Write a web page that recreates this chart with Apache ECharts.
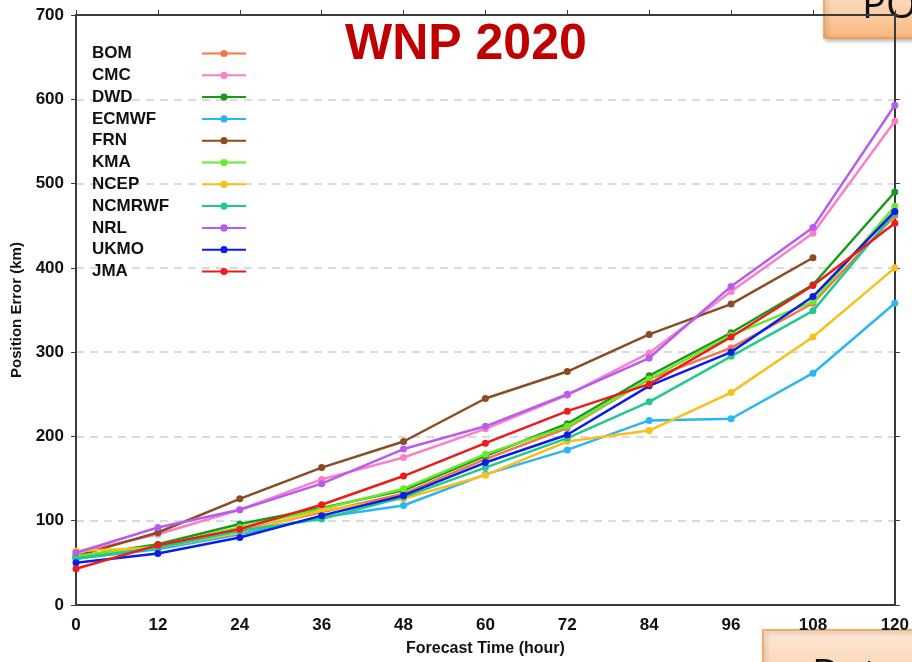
<!DOCTYPE html>
<html>
<head>
<meta charset="utf-8">
<script src="https://cdn.jsdelivr.net/npm/echarts@6/dist/echarts.min.js"></script>
<style>
html,body{margin:0;padding:0;background:#fff;}
#chart{width:912px;height:662px;}
</style>
</head>
<body>
<div id="chart"></div>
<script>
const hours = [0, 12, 24, 36, 48, 60, 72, 84, 96, 108, 120];
const centers = ['BOM','CMC','DWD','ECMWF','FRN','KMA','NCEP','NCMRWF','NRL','UKMO','JMA'];
const BOM    = [58, 68, 88, 110, 132, 173, 210, 268, 305, 358, 462];
const CMC    = [62, 84, 113, 149, 175, 209, 249, 299, 372, 441, 574];
const DWD    = [57, 72, 96, 115, 136, 177, 215, 272, 323, 380, 490];
const ECMWF  = [55, 66, 84, 104, 118, 155, 184, 219, 221, 275, 358];
const FRN    = [58, 86, 126, 163, 194, 245, 277, 321, 357, 412, null];
const KMA    = [58, 70, 92, 114, 138, 179, 212, 268, 320, 360, 473];
const NCEP   = [64, 68, 86, 112, 126, 154, 194, 207, 252, 318, 400];
const NCMRWF = [55, 68, 88, 102, 128, 163, 198, 241, 295, 349, 465];
const NRL    = [62, 92, 113, 144, 185, 212, 250, 293, 378, 448, 593];
const UKMO   = [50, 61, 80, 106, 130, 169, 202, 260, 300, 366, 467];
const JMA    = [43, 71, 90, 119, 153, 192, 230, 262, 318, 379, 453];
const seriesValues = [BOM, CMC, DWD, ECMWF, FRN, KMA, NCEP, NCMRWF, NRL, UKMO, JMA];
const colors = ['#f5754a','#fb7fc8','#179a17','#2ab6f3','#8c4b20','#6ae82e','#fbbf19','#22c98e','#b85cf0','#0b1de8','#ef1a1a'];
const titleText = 'WNP 2020';
const xName = 'Forecast Time (hour)';
const yName = 'Position Error (km)';

const font = '"Liberation Sans", Arial, sans-serif';
const chart = echarts.init(document.getElementById('chart'), null, {renderer: 'canvas'});

const series = centers.map((name, i) => ({
  name: name,
  type: 'line',
  xAxisIndex: 0,
  yAxisIndex: 0,
  data: hours.map((h, j) => [h, seriesValues[i][j]]),
  symbol: 'circle',
  symbolSize: 7,
  showSymbol: true,
  lineStyle: {width: 2.5, color: colors[i]},
  itemStyle: {color: colors[i]},
  connectNulls: false,
  animation: false,
  z: 2 + i
}));

const axisLineStyle = {show: true, onZero: false, lineStyle: {color: '#3a3a3a', width: 2}};
const tickStyle = {show: true, inside: false, length: 5, lineStyle: {color: '#3a3a3a', width: 1}};

chart.setOption({
  animation: false,
  backgroundColor: '#ffffff',
  title: {
    text: titleText,
    left: 340,
    top: 15,
    textStyle: {color: '#c00000', fontSize: 50, fontWeight: 'bold', fontFamily: font}
  },
  legend: {
    orient: 'vertical',
    left: 92,
    top: 45,
    padding: 0,
    align: 'right',
    itemWidth: 44,
    itemHeight: 9,
    itemGap: 4.8,
    data: centers,
    formatter: n => '{n|' + n + '}',
    textStyle: {
      rich: {
        n: {width: 105, align: 'left', fontSize: 17, fontWeight: 'bold', color: '#111', fontFamily: font, lineHeight: 17}
      }
    }
  },
  grid: {left: 76, right: 14, top: 15, bottom: 56, containLabel: false},
  xAxis: [
    {
      type: 'value', min: 0, max: 120, interval: 12, position: 'bottom',
      name: xName, nameLocation: 'middle', nameGap: 36,
      nameTextStyle: {fontSize: 16, fontWeight: 'bold', color: '#111', fontFamily: font},
      axisLine: axisLineStyle,
      axisTick: {show: false},
      axisLabel: {fontSize: 17, fontWeight: 'bold', color: '#111', margin: 12, fontFamily: font},
      splitLine: {show: false}
    },
    {
      type: 'value', min: 0, max: 120, interval: 12, position: 'top',
      axisLine: axisLineStyle,
      axisTick: tickStyle,
      axisLabel: {show: false},
      splitLine: {show: false}
    }
  ],
  yAxis: [
    {
      type: 'value', min: 0, max: 700, interval: 100, position: 'left',
      name: yName, nameLocation: 'middle', nameGap: 50, nameRotate: 90,
      nameTextStyle: {fontSize: 15, fontWeight: 'bold', color: '#111', fontFamily: font},
      axisLine: axisLineStyle,
      axisTick: tickStyle,
      axisLabel: {fontSize: 17, fontWeight: 'bold', color: '#111', margin: 12, fontFamily: font},
      splitLine: {show: true, showMinLine: false, showMaxLine: false, lineStyle: {color: '#cfcfcf', width: 1.5, type: [8, 6]}}
    },
    {
      type: 'value', min: 0, max: 700, interval: 100, position: 'right',
      axisLine: axisLineStyle,
      axisTick: tickStyle,
      axisLabel: {show: false},
      splitLine: {show: false}
    }
  ],
  series: series,
  graphic: [
    {
      type: 'group', z: 100,
      children: [
        {
          type: 'rect', shape: {x: 824, y: -6, width: 100, height: 44},
          style: {
            fill: new echarts.graphic.LinearGradient(0, 0, 0, 1, [{offset: 0, color: '#fde0c6'}, {offset: 1, color: '#f9b57c'}]),
            stroke: '#f39a48', lineWidth: 1.5,
            shadowBlur: 4, shadowOffsetX: 2, shadowOffsetY: 2, shadowColor: 'rgba(0,0,0,0.3)'
          }
        },
        {
          type: 'text', x: 862, y: 27,
          style: {text: 'PO', fontSize: 40, fontFamily: '"Open Sans", "Liberation Sans", sans-serif', fill: '#111', verticalAlign: 'bottom'}
        },
        {
          type: 'rect', shape: {x: 763, y: 630, width: 160, height: 50},
          style: {
            fill: new echarts.graphic.LinearGradient(0, 0, 0, 1, [{offset: 0, color: '#fde8d6'}, {offset: 1, color: '#fbd2ae'}]),
            stroke: '#f39a48', lineWidth: 1.5,
            shadowBlur: 4, shadowOffsetX: 2, shadowOffsetY: 2, shadowColor: 'rgba(0,0,0,0.3)'
          }
        },
        {
          type: 'text', x: 812, y: 657,
          style: {text: 'Dat', fontSize: 40, fontFamily: '"Open Sans", "Liberation Sans", sans-serif', fill: '#111', verticalAlign: 'top'}
        }
      ]
    }
  ]
});
</script>
</body>
</html>
